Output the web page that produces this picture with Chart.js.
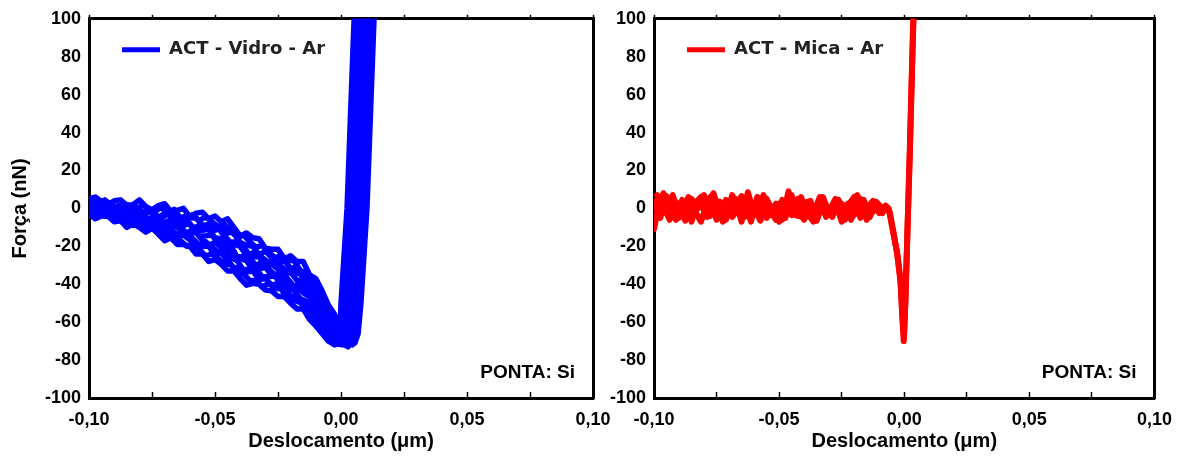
<!DOCTYPE html>
<html>
<head>
<meta charset="utf-8">
<script src="https://cdn.jsdelivr.net/npm/chart.js@4.4.0/dist/chart.umd.min.js"></script>
<style>
html, body { margin: 0; padding: 0; background: #fff; }
#wrap { position: relative; width: 1189px; height: 457px; }
#wrap canvas { position: absolute; left: 0; top: 0; }
</style>
</head>
<body>
<div id="wrap">
  <canvas id="chartVidro" width="1189" height="457"></canvas>
  <canvas id="chartMica" width="1189" height="457"></canvas>
</div>
<script>
// displacement grid for the approach part (um)
const xGrid = [-0.1000, -0.0975, -0.0950, -0.0925, -0.0900, -0.0875, -0.0850, -0.0825, -0.0800, -0.0775,
               -0.0750, -0.0725, -0.0700, -0.0675, -0.0650, -0.0625, -0.0600, -0.0575, -0.0550, -0.0525,
               -0.0500, -0.0475, -0.0450, -0.0425, -0.0400, -0.0375, -0.0350, -0.0325, -0.0300, -0.0275,
               -0.0250, -0.0225, -0.0200, -0.0175, -0.0150, -0.0125, -0.0100, -0.0075, -0.0050, -0.0025];
// half-step grid used by the in-between curves
const xHalf = [-0.09875, -0.09625, -0.09375, -0.09125, -0.08875, -0.08625, -0.08375, -0.08125, -0.07875, -0.07625,
               -0.07375, -0.07125, -0.06875, -0.06625, -0.06375, -0.06125, -0.05875, -0.05625, -0.05375, -0.05125,
               -0.04875, -0.04625, -0.04375, -0.04125, -0.03875, -0.03625, -0.03375, -0.03125, -0.02875, -0.02625,
               -0.02375, -0.02125, -0.01875, -0.01625, -0.01375, -0.01125, -0.00875];

// ACT - Vidro - Ar : curves on xGrid (nN)
const vidroA = [5, 6, 3.5, 2, 4, 4.5, 1.5, 2, 4.5, 1, -1, 1.5, 2.5, -1.5, -1, 0, -4.5, -2.5, -2, -5.5,
                -4, -7, -5.5, -10, -14.5, -13, -15.5, -16, -21, -21.5, -21.5, -26.5, -25, -28, -28, -35, -37, -43.5, -51, -56];
const vidroB = [2, 4, 4, -0.5, 1, 1.5, -1.5, 2, -1, -2, -0.5, -5, -2.5, -1.5, -4.5, -7, -5, -5, -9, -8.5,
                -11.5, -9.5, -13, -12.5, -18, -19.5, -20, -24.5, -22.5, -26, -28.5, -27.5, -31.5, -31, -36.5, -39, -42, -49.5, -53.5, -59];
const vidroC = [3.5, 0, -1.5, 1.5, -0.5, -2.5, 0, -2, -5, -2.5, -1.5, -5.5, -7.5, -6, -10, -9, -8, -12, -11.5, -11,
                -15.5, -16, -19.5, -19, -20, -25, -25.5, -25.5, -31, -29.5, -32, -35, -33.5, -38, -38.5, -45.5, -47, -52, -59, -62.5];
const vidroD = [0.5, 1.5, -2, -4, -1.5, -3, -2, -5.5, -4.5, -7.5, -7, -6, -11, -9.5, -9.5, -13.5, -13.5, -12.5, -17, -19.5,
                -18, -20.5, -20.5, -26, -26.5, -27.5, -32.5, -32, -31, -35.5, -34.5, -38.5, -42.5, -41.5, -44.5, -46.5, -53.5, -58, -61, -65.5];
const vidroE = [-3, -1.5, -1, -3.5, -5.5, -3, -6, -9, -6.5, -6.5, -10.5, -10.5, -10.5, -15, -14.5, -14, -16.5, -20.5, -20, -20,
                -24.5, -23.5, -27.5, -31.5, -31, -33.5, -33, -37.5, -37, -40.5, -39.5, -41, -46, -47, -51, -52, -57, -63.5, -65.5, -69];
const vidroF = [-3, -5.5, -4, -4, -7, -6.5, -10, -8, -10, -12.5, -10.5, -13.5, -17, -15.5, -19, -19, -20, -24, -24, -28,
                -27, -29.5, -33, -33, -37, -40.5, -39.5, -40, -43, -43.5, -46.5, -46.5, -50, -53, -53, -58.5, -62, -66, -70, -72];
// ACT - Vidro - Ar : in-between curves on xHalf (nN)
const vidroG = [4, 2, 4.5, 2, 0, 2.5, 1.5, -1, 2, 0, -1.5, 0.5, -2.5, -0.5, -5, -4, -3.5, -6.5, -4.5, -7,
                -9.5, -8.5, -11.5, -15.5, -14, -17.5, -20.5, -19.5, -23, -26, -25, -27.5, -27.5, -32.5, -34.5, -37.5, -43.5];
const vidroH = [1, 3, 1, -1.5, 1, 1.5, -2.5, -1.5, -4, -1, -3.5, -5, -3, -5.5, -8, -6.5, -10.5, -9, -9.5, -12.5,
                -10.5, -14.5, -18, -17.5, -20.5, -24.5, -22.5, -26, -28.5, -27, -30.5, -33.5, -33.5, -34.5, -40, -43, -47];
const vidroI = [2, 0, -2, 0, -3, -0.5, -3.5, -6, -3.5, -5.5, -4, -7, -9.5, -8, -10, -13, -11, -14.5, -14.5, -14,
                -18.5, -18.5, -19.5, -25.5, -25.5, -26, -30, -28.5, -32, -35, -34, -37, -41, -40, -44, -46.5, -53];
const vidroJ = [-0.5, -3.5, -1, -1, -4.5, -4.5, -4, -7, -9, -7, -7.5, -11.5, -9, -12.5, -14.5, -14, -16, -19.5, -17.5, -20.5,
                -23, -22, -26, -27.5, -32.5, -32, -32, -36, -36, -35.5, -40.5, -41.5, -43, -47.5, -49, -52, -57.5];
const vidroK = [-3, -2, -4, -4.5, -3.5, -7.5, -7.5, -7.5, -11, -10, -9.5, -13, -15, -14.5, -17, -20, -19, -21.5, -25, -24,
                -26.5, -29.5, -29.5, -33.5, -34.5, -38, -38, -41.5, -39.5, -42, -42.5, -47.5, -48.5, -49.5, -54.5, -57.5, -62];

// contact part of each Vidro curve (minimum and steep rise)
const vidroTailAX = [-0.0012, -0.0004, 0.0000, 0.0024, 0.0038, 0.0052, 0.0058];
const vidroTailAY = [-63, -66, -50, 0, 50, 100, 115];
const vidroTailBX = [-0.0005, 0.0006, 0.0016, 0.0040, 0.0054, 0.0068, 0.0074];
const vidroTailBY = [-65, -68, -50, 0, 50, 100, 115];
const vidroTailCX = [-0.0005, 0.0010, 0.0022, 0.0032, 0.0056, 0.0070, 0.0084, 0.0090];
const vidroTailCY = [-67, -70, -66, -50, 0, 50, 100, 115];
const vidroTailDX = [0.0000, 0.0020, 0.0036, 0.0048, 0.0072, 0.0086, 0.0100, 0.0106];
const vidroTailDY = [-70, -72, -66, -50, 0, 50, 100, 115];
const vidroTailEX = [0.0000, 0.0025, 0.0045, 0.0054, 0.0064, 0.0088, 0.0102, 0.0116, 0.0122];
const vidroTailEY = [-71, -70, -72, -64, -50, 0, 50, 100, 115];
const vidroTailFX = [0.0010, 0.0030, 0.0055, 0.0068, 0.0079, 0.0103, 0.0117, 0.0131, 0.0137];
const vidroTailFY = [-71, -72, -71, -66, -50, 0, 50, 100, 115];
const vidroTailGX = [-0.0062, -0.0035, -0.0010, 0.0000, 0.0008, 0.0032, 0.0046, 0.0060, 0.0066];
const vidroTailGY = [-50, -57, -63, -65, -50, 0, 50, 100, 115];
const vidroTailHX = [-0.0062, -0.0035, -0.0010, 0.0012, 0.0024, 0.0048, 0.0062, 0.0076, 0.0082];
const vidroTailHY = [-54, -61, -66, -67, -50, 0, 50, 100, 115];
const vidroTailIX = [-0.0062, -0.0035, -0.0005, 0.0020, 0.0030, 0.0040, 0.0064, 0.0078, 0.0092, 0.0098];
const vidroTailIY = [-58, -64, -69, -71, -64, -50, 0, 50, 100, 115];
const vidroTailJX = [-0.0062, -0.0035, 0.0000, 0.0028, 0.0046, 0.0056, 0.0080, 0.0094, 0.0108, 0.0114];
const vidroTailJY = [-62, -68, -71, -73, -66, -50, 0, 50, 100, 115];
const vidroTailKX = [-0.0062, -0.0035, 0.0005, 0.0035, 0.0060, 0.0072, 0.0096, 0.0110, 0.0124, 0.0130];
const vidroTailKY = [-66, -71, -72, -70, -64, -50, 0, 50, 100, 115];

// ACT - Mica - Ar : flat noisy part (A, B on xGrid[0..37], C, D on xHalf)
const micaA = [4, -5, 6.5, -2.5, 1.5, -6.5, 5, 0, 7, -4, 2.5, -7, 4, 1.5, 6.5, -2.5, 0, -6.5, 5, -1.5,
               2.5, -5, 7, -4, 0, 4, -6.5, 2.5, -1.5, 5, -4, 1.5, 6, -5, 0, 4, -2.5, 1.5];
const micaB = [-11, 6, -2.5, 7, -5, 2.5, -7, 3.5, -1, 6, -6, 1, -3.5, 5, -7, 8.5, -2.5, 3.5, -5, 0,
               -7, 2.5, -3.5, 5, -6, 1, -5, 6, -2.5, 3.5, -7, 2.5, -3.5, 5, -6, 2.5, -1, 0];
const micaC = [7, 1, -6, 3.5, -3.5, 6, -1, -7, 2.5, 8, -2.5, 4.5, -4.5, 0, 3.5, -7, 6, 1, -3.5, 2.5,
               -6, 9, -1, -4.5, 3.5, -2.5, 6, -4.5, 1, 4.5, -6, 0, 7, -2.5, -4.5, 3.5, 0];
const micaD = [-3.5, 8, 0, -6, 4.5, -2.5, 2.5, 6, -4.5, 0, 3.5, -6, 7, -1, -4.5, 2.5, -3.5, 7, -1, -6,
               4.5, 0, -3.5, 6, -2.5, -7, 2.5, 0, -4.5, 3.5, 1, -6, 2.5, 4.5, -3.5, 0, -2.5];
const micaTailAX = [-0.0062, -0.0048, -0.0030, -0.0016, -0.0008, -0.0002, 0.0004, 0.0012, 0.0022, 0.0030, 0.0036, 0.0040];
const micaTailAY = [0, -10, -22, -36, -56, -70, -50, -15, 30, 70, 100, 115];
const micaTailBX = [-0.0058, -0.0044, -0.0027, -0.0014, -0.0006, -0.0001, 0.0005, 0.0013, 0.0023, 0.0031, 0.0037, 0.0041];
const micaTailBY = [-2, -12, -25, -40, -60, -68, -48, -12, 32, 72, 100, 115];

const vidroLabel = 'ACT - Vidro - Ar';
const micaLabel = 'ACT - Mica - Ar';
const tipNote = 'PONTA: Si';
const xTitle = 'Deslocamento (\u03bcm)';
const yTitle = 'For\u00e7a (nN)';

const sans = "'Liberation Sans', Arial, sans-serif";
const tickFont = { family: sans, size: 18, weight: 'bold' };
const titleFont = { family: sans, size: 20, weight: 'bold' };

function pts(xs, ys) {
    return xs.map((x, i) => ({ x: x, y: ys[i] }));
}

function fmtX(value) {
    const n = Math.round(value * 10000) / 10000;
    if (Math.abs(n * 20 - Math.round(n * 20)) > 1e-6) return '';
    return (Math.abs(n) < 1e-9 ? 0 : n).toFixed(2).replace('.', ',');
}

function curve(label, color, width, data) {
    return {
        label: label,
        data: data,
        borderColor: color,
        backgroundColor: color,
        borderWidth: width,
        pointRadius: 0,
        tension: 0,
        fill: false,
        borderJoinStyle: 'round',
        borderCapStyle: 'round'
    };
}

// legend sample + tip note drawn inside the plot box
const panelText = {
    id: 'panelText',
    afterDraw(chart, args, opts) {
        const { ctx, chartArea: a } = chart;
        const ds = chart.data.datasets[0];
        ctx.save();
        ctx.strokeStyle = ds.borderColor;
        ctx.lineWidth = 5;
        ctx.beginPath();
        ctx.moveTo(a.left + 33, a.top + 31);
        ctx.lineTo(a.left + 71, a.top + 31);
        ctx.stroke();
        ctx.fillStyle = '#222';
        ctx.textBaseline = 'middle';
        ctx.font = "bold 18px 'DejaVu Sans', sans-serif";
        ctx.fillText(ds.label, a.left + 80, a.top + 31);
        ctx.fillStyle = '#000';
        ctx.textAlign = 'right';
        ctx.font = 'bold 19px ' + sans;
        ctx.fillText(opts.note, a.right - 18, a.bottom - 25);
        ctx.restore();
    }
};

function makeChart(canvasId, datasets, pad, yWidth, showYTitle) {
    return new Chart(document.getElementById(canvasId), {
        type: 'line',
        data: { datasets: datasets },
        plugins: [panelText],
        options: {
            responsive: false,
            animation: false,
            devicePixelRatio: 1,
            layout: { padding: pad },
            plugins: {
                legend: { display: false },
                tooltip: { enabled: false },
                panelText: { note: tipNote }
            },
            scales: {
                x: {
                    type: 'linear', position: 'bottom', min: -0.1, max: 0.1,
                    ticks: { stepSize: 0.025, autoSkip: false, maxRotation: 0, font: tickFont, color: '#000', padding: 17, callback: fmtX },
                    grid: { drawOnChartArea: false, drawTicks: true, tickLength: -6, tickWidth: 1.5, tickColor: '#000' },
                    border: { color: '#000', width: 3 },
                    title: { display: true, text: xTitle, font: titleFont, color: '#000', padding: { top: 0, bottom: 4 } },
                    afterFit: s => { s.height = 59; }
                },
                xTop: {
                    type: 'linear', position: 'top', min: -0.1, max: 0.1,
                    ticks: { stepSize: 0.025, display: false },
                    grid: { drawOnChartArea: false, drawTicks: true, tickLength: 4, tickWidth: 1.5, tickColor: '#000' },
                    border: { color: '#000', width: 3 },
                    afterFit: s => { s.height = 0; }
                },
                y: {
                    type: 'linear', position: 'left', min: -100, max: 100,
                    ticks: { stepSize: 20, font: tickFont, color: '#000', padding: 8 },
                    grid: { drawOnChartArea: false, drawTicks: false },
                    border: { color: '#000', width: 3 },
                    title: { display: showYTitle, text: yTitle, font: titleFont, color: '#000', padding: { top: 8, bottom: 0 } },
                    afterFit: s => { s.width = yWidth; }
                },
                yRight: {
                    type: 'linear', position: 'right', min: -100, max: 100,
                    ticks: { display: false },
                    grid: { drawOnChartArea: false, drawTicks: false },
                    border: { color: '#000', width: 3 },
                    afterFit: s => { s.width = 0; }
                }
            }
        }
    });
}

const blue = '#0000ff';
const red = '#ff0000';

makeChart('chartVidro', [
    curve(vidroLabel, blue, 5.5, pts(xGrid.concat(vidroTailAX), vidroA.concat(vidroTailAY))),
    curve('', blue, 5.5, pts(xGrid.concat(vidroTailBX), vidroB.concat(vidroTailBY))),
    curve('', blue, 5.5, pts(xGrid.concat(vidroTailCX), vidroC.concat(vidroTailCY))),
    curve('', blue, 5.5, pts(xGrid.concat(vidroTailDX), vidroD.concat(vidroTailDY))),
    curve('', blue, 5.5, pts(xGrid.concat(vidroTailEX), vidroE.concat(vidroTailEY))),
    curve('', blue, 5.5, pts(xGrid.concat(vidroTailFX), vidroF.concat(vidroTailFY))),
    curve('', blue, 5.5, pts(xHalf.concat(vidroTailGX), vidroG.concat(vidroTailGY))),
    curve('', blue, 5.5, pts(xHalf.concat(vidroTailHX), vidroH.concat(vidroTailHY))),
    curve('', blue, 5.5, pts(xHalf.concat(vidroTailIX), vidroI.concat(vidroTailIY))),
    curve('', blue, 5.5, pts(xHalf.concat(vidroTailJX), vidroJ.concat(vidroTailJY))),
    curve('', blue, 5.5, pts(xHalf.concat(vidroTailKX), vidroK.concat(vidroTailKY)))
], { left: 0, right: 596, top: 17, bottom: 0 }, 89, true);

const micaX = xGrid.slice(0, 38);
makeChart('chartMica', [
    curve(micaLabel, red, 6, pts(micaX.concat(micaTailAX), micaA.concat(micaTailAY))),
    curve('', red, 6, pts(micaX.concat(micaTailBX), micaB.concat(micaTailBY))),
    curve('', red, 6, pts(xHalf, micaC)),
    curve('', red, 6, pts(xHalf, micaD))
], { left: 604, right: 31, top: 17, bottom: 0 }, 50, false);
</script>
</body>
</html>
